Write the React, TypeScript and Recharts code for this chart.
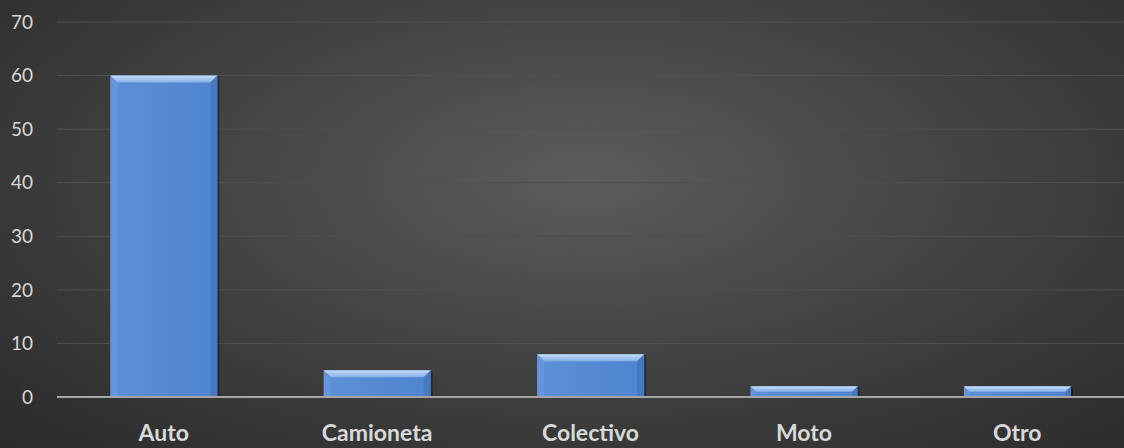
import { BarChart, Bar, XAxis, YAxis, CartesianGrid, ReferenceLine } from 'recharts';

const categories = ['Auto', 'Camioneta', 'Colectivo', 'Moto', 'Otro'];
const values = [60, 5, 8, 2, 2];
const yTicks = [0, 10, 20, 30, 40, 50, 60, 70];

const data = categories.map((name, i) => ({ name, value: values[i] }));

const FONT = 'Lato, "Open Sans", sans-serif';

// bevelled bar, like the office "soft edge" preset
const BevelBar = (props: any) => {
  const { x, y, width, height } = props;
  if (!height || height <= 0) return null;
  const b = Math.min(7, height / 2, width / 2);
  return (
    <g>
      <rect x={x + 2} y={y + 1} width={width} height={height - 1} fill="rgba(0,0,0,0.35)" />
      <rect x={x} y={y} width={width} height={height} fill="url(#barBody)" />
      <polygon points={`${x},${y} ${x + width},${y} ${x + width - b},${y + b} ${x + b},${y + b}`} fill="url(#barTop)" />
      <polygon points={`${x},${y} ${x + b},${y + b} ${x + b},${y + height} ${x},${y + height}`} fill="#6a9adf" opacity={0.6} />
      <polygon points={`${x + width},${y} ${x + width - b},${y + b} ${x + width - b},${y + height} ${x + width},${y + height}`} fill="#3f72b8" opacity={0.6} />
    </g>
  );
};

export default function App() {
  return (
    <div
      style={{
        position: 'absolute',
        left: 0,
        top: 0,
        width: 1124,
        height: 448,
        background: 'radial-gradient(ellipse at 52% 40%, #5c5c5c 0%, #444 45%, #2a2a2a 100%)',
        fontFamily: FONT,
      }}
    >
      <BarChart
        width={1124}
        height={448}
        data={data}
        margin={{ top: 22, right: 0, bottom: 0, left: 0 }}
        barCategoryGap="25%"
      >
        <defs>
          <linearGradient id="barBody" x1="0" y1="0" x2="1" y2="0">
            <stop offset="0%" stopColor="#5c90d8" />
            <stop offset="100%" stopColor="#4f84ce" />
          </linearGradient>
          <linearGradient id="barTop" x1="0" y1="0" x2="0" y2="1">
            <stop offset="0%" stopColor="#c6dcf6" />
            <stop offset="100%" stopColor="#86b0e8" />
          </linearGradient>
        </defs>
        <CartesianGrid vertical={false} stroke="#505050" strokeWidth={1} />
        <XAxis
          dataKey="name"
          height={51}
          axisLine={false}
          tickLine={false}
          tickSize={0}
          tickMargin={28}
          tick={{ fill: '#d9d9d9', fontSize: 23, fontWeight: 700, fontFamily: FONT }}
        />
        <YAxis
          width={57}
          domain={[0, 70]}
          ticks={yTicks}
          axisLine={false}
          tickLine={false}
          tickSize={0}
          tickMargin={24}
          tick={{ fill: '#d9d9d9', fontSize: 19, fontFamily: FONT }}
        />
        <Bar dataKey="value" shape={<BevelBar />} isAnimationActive={false} />
        <ReferenceLine y={0} stroke="#a6a6a6" strokeWidth={2} />
      </BarChart>
    </div>
  );
}
